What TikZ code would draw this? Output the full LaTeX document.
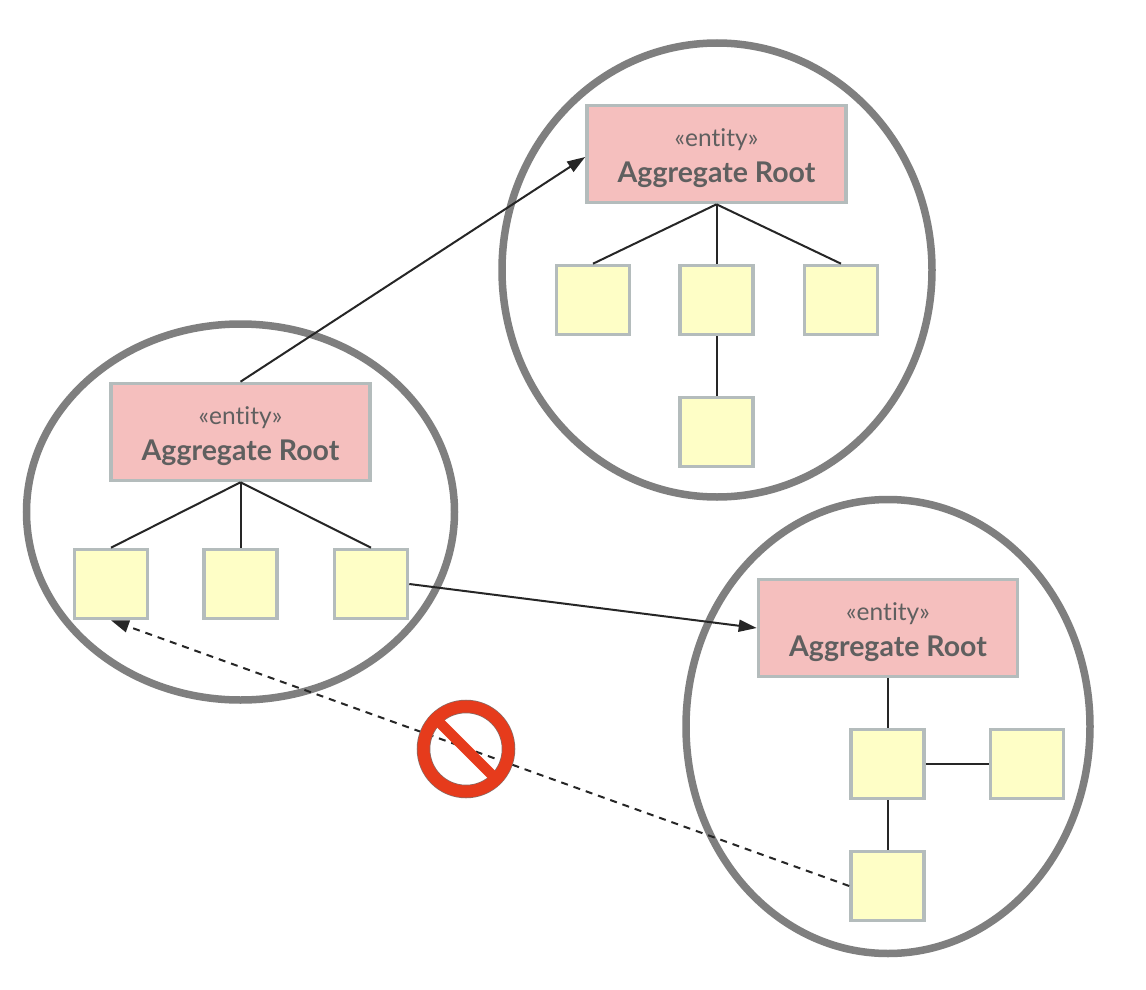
\documentclass[tikz,border=0pt]{standalone}
\usepackage{fontspec}
\setmainfont{Lato}[Ligatures=NoCommon]
\usetikzlibrary{arrows.meta}
\definecolor{ringgray}{HTML}{7F7F7F}
\definecolor{boxedge}{HTML}{B4BCBC}
\definecolor{rootfill}{HTML}{F5BFBE}
\definecolor{partfill}{HTML}{FEFEC6}
\definecolor{labelgray}{HTML}{5F5F5F}
\definecolor{signred}{HTML}{E63B1C}
\definecolor{signedge}{HTML}{8A6A64}
\tikzset{
  x=1pt,y=-1pt,
  ring/.style={draw=ringgray,line width=7.5pt},
  rootbox/.style={draw=boxedge,line width=3.6pt,fill=rootfill,minimum width=259pt,minimum height=97pt,inner sep=0pt,outer sep=1.8pt,align=center,text=labelgray},
  partbox/.style={draw=boxedge,line width=3.6pt,fill=partfill,minimum width=73pt,minimum height=69pt,inner sep=0pt,outer sep=1.8pt},
  link/.style={draw=black!85,line width=2pt},
  refarrow/.style={link,-{Triangle[length=18pt,width=12pt]}},
  refdash/.style={link,dash pattern=on 7pt off 6pt,-{Triangle[length=18pt,width=12pt]}},
}
\newcommand{\rootlabel}{{\fontsize{24.5}{26}\selectfont\rule{0pt}{26pt}«entity»}\\[11pt]{\fontsize{28.5}{30}\selectfont\bfseries Aggregate Root}}
\begin{document}
\begin{tikzpicture}
\useasboundingbox (0,0) rectangle (1146,990);
\fill[white] (0,0) rectangle (1146,990);
% aggregate boundaries
\draw[ring] (240.5,512) ellipse [x radius=214,y radius=188];
\draw[ring] (717,270) ellipse [x radius=215,y radius=227];
\draw[ring] (888,726.5) ellipse [x radius=202,y radius=227];
% left aggregate
\node[rootbox] (rootL) at (240.5,432) {\rootlabel};
\node[partbox] (l1) at (111,584) {};
\node[partbox] (l2) at (240.5,584) {};
\node[partbox] (l3) at (371,584) {};
% top aggregate
\node[rootbox] (rootT) at (716.5,154) {\rootlabel};
\node[partbox] (t1) at (593,300) {};
\node[partbox] (t2) at (716.5,300) {};
\node[partbox] (t3) at (841,300) {};
\node[partbox] (t4) at (716.5,432) {};
% bottom aggregate
\node[rootbox] (rootB) at (888,628) {\rootlabel};
\node[partbox] (b1) at (887.5,764) {};
\node[partbox] (b2) at (1027,764) {};
\node[partbox] (b3) at (887.5,886) {};
% internal links
\draw[link] (rootL.south) -- (l1.north);
\draw[link] (rootL.south) -- (l2.north);
\draw[link] (rootL.south) -- (l3.north);
\draw[link] (rootT.south) -- (t1.north);
\draw[link] (rootT.south) -- (t2.north);
\draw[link] (rootT.south) -- (t3.north);
\draw[link] (t2.south) -- (t4.north);
\draw[link] (rootB.south) -- (rootB.south |- b1.north);
\draw[link] (b1.east) -- (b2.west);
\draw[link] (b1.south) -- (b3.north);
% references between aggregates
\draw[refarrow] (rootL.north) -- ([yshift=-3pt]rootT.west);
\draw[refarrow] (l3.east) -- (rootB.west);
\draw[refdash] (b3.west) -- (l1.south);
% prohibition sign
\node[circle,draw=signedge,line width=13.5pt,minimum size=85pt,inner sep=0pt] (forbidOut) at (466,749) {};
\node[circle,draw=signred,line width=12pt,minimum size=85pt,inner sep=0pt] (forbid) at (466,749) {};
\draw[signred,line width=10.5pt] (forbid.135) -- (forbid.-45);
\end{tikzpicture}
\end{document}
